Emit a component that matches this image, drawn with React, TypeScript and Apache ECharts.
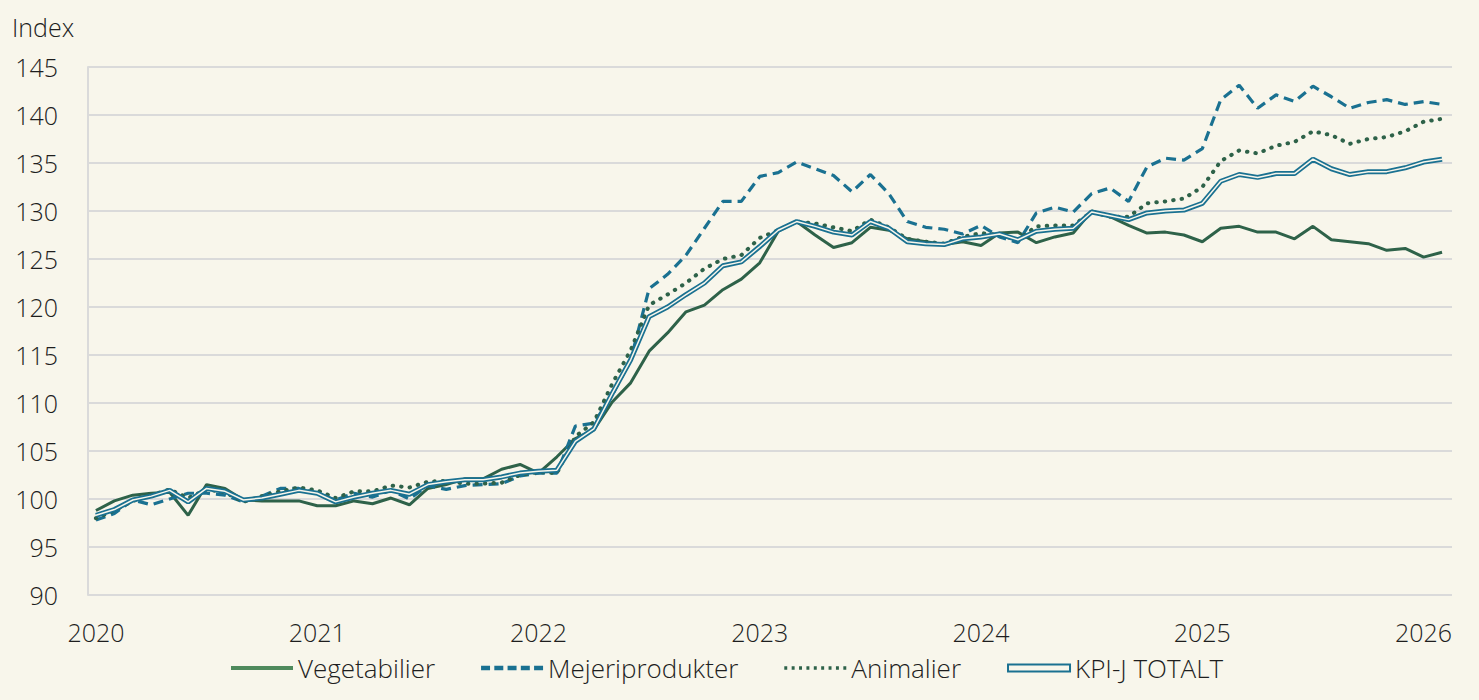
import React, { useEffect, useRef } from "react";
import * as echarts from "echarts";

const startYear = 2020;
const yearTicks = ["2020", "2021", "2022", "2023", "2024", "2025", "2026"];

const vegetabilier = [
  98.8, 99.8, 100.4, 100.6, 100.7, 98.3, 101.5, 101.1, 99.9, 99.8, 99.8, 99.8,
  99.3, 99.3, 99.8, 99.5, 100.1, 99.4, 101.1, 101.5, 102.1, 102.1, 103.1, 103.6,
  102.7, 104.4, 106.3, 107.2, 110.1, 112.1, 115.4, 117.3, 119.5, 120.2, 121.8, 122.9,
  124.6, 127.9, 128.9, 127.5, 126.2, 126.7, 128.3, 128.0, 127.1, 126.8, 126.5, 126.8,
  126.4, 127.7, 127.8, 126.7, 127.3, 127.7, 130.0, 129.4, 128.5, 127.7, 127.8, 127.5,
  126.8, 128.2, 128.4, 127.8, 127.8, 127.1, 128.4, 127.0, 126.8, 126.6, 125.9, 126.1,
  125.2, 125.7,
];

const mejeriprodukter = [
  97.8, 98.5, 99.9, 99.4, 100.0, 100.6, 100.6, 100.4, 99.7, 100.3, 101.1, 101.1,
  100.6, 99.9, 100.6, 100.2, 100.9, 100.0, 101.4, 101.0, 101.4, 101.5, 101.6, 102.4,
  102.7, 102.7, 107.6, 107.9, 110.8, 114.5, 121.9, 123.4, 125.4, 128.2, 131.0, 131.0,
  133.6, 134.0, 135.1, 134.4, 133.7, 132.0, 133.8, 131.8, 128.9, 128.3, 128.1, 127.6,
  128.5, 127.3, 126.7, 129.8, 130.4, 129.9, 131.8, 132.4, 131.0, 134.6, 135.5, 135.3,
  136.5, 141.6, 143.1, 140.7, 142.1, 141.4, 143.0, 141.9, 140.7, 141.3, 141.6, 141.1,
  141.4, 141.1,
];

const animalier = [
  98.0, 98.8, 99.8, 100.4, 101.0, 100.1, 101.0, 100.7, 99.7, 100.3, 100.8, 101.2,
  100.9, 100.1, 100.8, 100.8, 101.4, 101.2, 101.8, 101.9, 101.6, 101.6, 101.7, 102.5,
  102.8, 102.7, 106.5, 108.0, 112.0, 115.5, 120.2, 121.3, 122.5, 124.0, 125.0, 125.4,
  127.2, 128.0, 128.9, 128.7, 128.3, 127.9, 129.1, 128.3, 127.1, 126.8, 126.6, 127.3,
  127.7, 127.5, 127.0, 128.4, 128.5, 128.5, 129.9, 129.4, 129.4, 130.8, 131.0, 131.3,
  132.5, 135.2, 136.3, 136.0, 136.8, 137.2, 138.3, 137.9, 137.0, 137.5, 137.7, 138.3,
  139.3, 139.6,
];

const kpiTotalt = [
  98.3, 98.9, 99.9, 100.3, 100.9, 99.7, 101.1, 100.8, 99.9, 100.1, 100.5, 100.9,
  100.6, 99.7, 100.2, 100.6, 100.9, 100.5, 101.5, 101.8, 102.0, 102.0, 102.3, 102.7,
  102.9, 103.0, 106.0, 107.3, 111.0, 114.5, 119.0, 120.0, 121.3, 122.5, 124.3, 124.7,
  126.3, 128.0, 128.9, 128.4, 127.8, 127.5, 128.9, 128.2, 126.8, 126.6, 126.5, 127.1,
  127.3, 127.6, 127.0, 127.9, 128.1, 128.2, 129.9, 129.5, 129.1, 129.8, 130.0, 130.1,
  130.8, 133.1, 133.8, 133.5, 133.9, 133.9, 135.4, 134.4, 133.8, 134.1, 134.1, 134.5,
  135.1, 135.4,
];

const BG = "#f8f6eb";
const GREEN = "#2e6249";
const LEGEND_GREEN = "#4f8a5c";
const TEAL = "#1a7191";
const GRID = "#dadada";
const TEXT = "#1e1e1e";
const FONT = "'Open Sans', 'Noto Sans', sans-serif";

const toPairs = (arr: number[]) => arr.map((v, i) => [i, v]);

// legend icon paths (62 px wide)
const solidIcon = "path://M0,0 L62,0 L62,4 L0,4 Z";
const dashIcon = (() => {
  let d = "path://";
  for (let x = 0; x < 62; x += 12.4) {
    const w = Math.min(8.4, 62 - x);
    d += `M${x},0 L${x + w},0 L${x + w},4 L${x},4 Z `;
  }
  return d;
})();
const dotIcon = (() => {
  let d = "path://";
  for (let x = 0; x <= 60; x += 7.5) {
    d += `M${x},0 L${x + 3},0 L${x + 3},3.5 L${x},3.5 Z `;
  }
  return d;
})();
const doubleIcon = "path://M0,0 L62,0 L62,7 L0,7 Z";

export default function App() {
  const ref = useRef<HTMLDivElement>(null);

  useEffect(() => {
    document.body.style.margin = "0";
    document.body.style.background = BG;
    if (!ref.current) return;
    const chart = echarts.init(ref.current, undefined, { renderer: "svg" });
    const tickValues = yearTicks.map((_, k) => k * 12);

    chart.setOption({
      animation: false,
      backgroundColor: BG,
      textStyle: { fontFamily: FONT, fontWeight: 300 },
      grid: { left: 88, right: 27, top: 67, bottom: 105, containLabel: false },
      graphic: [
        {
          type: "text",
          left: 12,
          top: 14,
          style: { text: "Index", fontSize: 25, fontFamily: FONT, fontWeight: 300, fill: TEXT },
        },
      ],
      legend: {
        left: 226,
        top: 650,
        itemWidth: 62,
        itemHeight: 14,
        itemGap: 46,
        textStyle: { fontSize: 26, fontFamily: FONT, fontWeight: 300, color: TEXT },
        data: [
          { name: "Vegetabilier", icon: solidIcon, itemStyle: { color: LEGEND_GREEN, borderWidth: 0 } },
          { name: "Mejeriprodukter", icon: dashIcon, itemStyle: { color: TEAL, borderWidth: 0 } },
          { name: "Animalier", icon: dotIcon, itemStyle: { color: GREEN, borderWidth: 0 } },
          {
            name: "KPI-J TOTALT",
            icon: doubleIcon,
            itemStyle: { color: BG, borderColor: TEAL, borderWidth: 2 },
          },
        ],
      },
      xAxis: {
        type: "value",
        min: -0.43,
        max: 73.54,
        splitLine: { show: false },
        axisLine: { show: false },
        axisTick: { show: false },
        axisLabel: {
          customValues: tickValues,
          margin: 24,
          fontSize: 25,
          fontFamily: FONT,
          fontWeight: 300,
          color: TEXT,
          formatter: (v: number) => String(startYear + Math.round(v / 12)),
        },
      },
      yAxis: {
        type: "value",
        min: 90,
        max: 145,
        interval: 5,
        axisLine: { show: true, onZero: false, lineStyle: { color: GRID, width: 2 } },
        axisTick: { show: false },
        splitLine: { show: true, lineStyle: { color: GRID, width: 2 } },
        axisLabel: { margin: 30, fontSize: 25, fontFamily: FONT, fontWeight: 300, color: TEXT },
      },
      series: [
        {
          name: "Vegetabilier",
          type: "line",
          symbol: "none",
          data: toPairs(vegetabilier),
          lineStyle: { color: GREEN, width: 3 },
          itemStyle: { color: GREEN },
          z: 3,
        },
        {
          name: "Mejeriprodukter",
          type: "line",
          symbol: "none",
          data: toPairs(mejeriprodukter),
          lineStyle: { color: TEAL, width: 3.2, type: [10, 6] },
          itemStyle: { color: TEAL },
          z: 4,
        },
        {
          name: "Animalier",
          type: "line",
          symbol: "none",
          data: toPairs(animalier),
          lineStyle: { color: GREEN, width: 4, type: [0.5, 8], cap: "round" },
          itemStyle: { color: GREEN },
          z: 5,
        },
        {
          name: "KPI-J TOTALT",
          type: "line",
          symbol: "none",
          data: toPairs(kpiTotalt),
          lineStyle: { color: TEAL, width: 5 },
          itemStyle: { color: TEAL },
          z: 6,
        },
        {
          name: "KPI-J TOTALT inner",
          type: "line",
          symbol: "none",
          data: toPairs(kpiTotalt),
          lineStyle: { color: BG, width: 1.5 },
          itemStyle: { color: BG },
          silent: true,
          z: 7,
        },
      ],
    });

    return () => chart.dispose();
  }, []);

  return <div ref={ref} style={{ width: 1479, height: 700 }} />;
}
